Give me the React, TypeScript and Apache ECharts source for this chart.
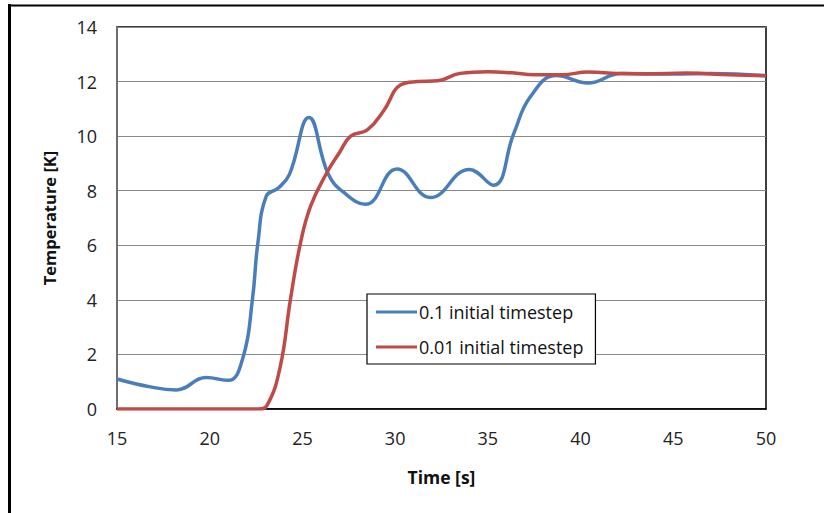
import React, { useEffect, useRef } from "react";
import * as echarts from "echarts";

const blueX = [15, 16.8, 18.2, 19.8, 21.0, 21.8, 22.3, 22.6, 23.05, 23.7, 24.3, 25.35, 26.4, 27.3, 28.4, 30.1, 31.9, 34.0, 35.3, 36.4, 37.3, 38.7, 40.4, 42.2, 45, 47, 50];
const blueY = [1.1, 0.81, 0.7, 1.15, 1.05, 1.9, 4.0, 6.1, 7.8, 8.1, 8.6, 10.68, 8.6, 7.9, 7.5, 8.8, 7.75, 8.78, 8.2, 10.1, 11.45, 12.22, 11.95, 12.3, 12.28, 12.3, 12.22];

const redX = [15, 20, 22.6, 23.1, 23.8, 24.35, 24.9, 25.45, 26.3, 27.0, 27.6, 28.5, 29.4, 30.3, 31.2, 32.3, 33.5, 35, 36.3, 37.5, 39, 40.4, 42, 43.6, 45.7, 48, 50];
const redY = [0, 0, 0, 0.14, 1.54, 4.0, 6.1, 7.45, 8.64, 9.4, 10.0, 10.23, 10.95, 11.88, 12.0, 12.03, 12.3, 12.36, 12.32, 12.25, 12.25, 12.35, 12.3, 12.28, 12.31, 12.25, 12.21];

const seriesNames = ["0.1 initial timestep", "0.01 initial timestep"];
const xTitle = "Time [s]";
const yTitle = "Temperature [K]";

const zip = (xs: number[], ys: number[]) => xs.map((x, i) => [x, ys[i]]);

export default function App() {
  const ref = useRef<HTMLDivElement>(null);
  useEffect(() => {
    if (!ref.current) return;
    const chart = echarts.init(ref.current, null, { renderer: "svg" });
    const font = "'Open Sans', sans-serif";
    chart.setOption({
      animation: false,
      backgroundColor: "#fff",
      textStyle: { fontFamily: font },
      grid: {
        left: 117,
        right: 58,
        top: 27,
        bottom: 104,
        show: true,
        borderColor: "#000",
        borderWidth: 1.5,
        containLabel: false,
      },
      xAxis: {
        type: "value",
        min: 15,
        max: 50,
        interval: 5,
        name: xTitle,
        nameLocation: "middle",
        nameGap: 59,
        nameTextStyle: { fontFamily: font, fontSize: 17.5, fontWeight: "bold", color: "#111" },
        axisLine: { show: true, lineStyle: { color: "#000", width: 1.5 } },
        axisTick: { show: false },
        axisLabel: { fontFamily: font, fontSize: 18, color: "#222", margin: 20 },
        splitLine: { show: false },
      },
      yAxis: {
        type: "value",
        min: 0,
        max: 14,
        interval: 2,
        name: yTitle,
        nameLocation: "middle",
        nameGap: 59,
        nameTextStyle: { fontFamily: font, fontSize: 16.5, fontWeight: "bold", color: "#111" },
        axisLine: { show: true, lineStyle: { color: "#6e6e6e", width: 2 } },
        axisTick: { show: false },
        axisLabel: { fontFamily: font, fontSize: 18, color: "#222", margin: 20 },
        splitLine: { show: true, lineStyle: { color: "#8a8a8a", width: 1 } },
      },
      legend: {
        orient: "vertical",
        left: 367,
        top: 294,
        padding: [8, 12, 7, 9],
        itemGap: 15,
        itemWidth: 41,
        itemHeight: 3,
        icon: "rect",
        borderColor: "#000",
        borderWidth: 1.2,
        backgroundColor: "#fff",
        textStyle: { fontFamily: font, fontSize: 18, color: "#111", lineHeight: 20, padding: [0, 0, 0, -3] },
        data: seriesNames,
      },
      series: [
        {
          name: seriesNames[0],
          type: "line",
          data: zip(blueX, blueY),
          smooth: 0.45,
          symbol: "none",
          lineStyle: { color: "#4a7ebb", width: 3.5 },
          itemStyle: { color: "#4a7ebb" },
          z: 3,
        },
        {
          name: seriesNames[1],
          type: "line",
          data: zip(redX, redY),
          smooth: 0.45,
          symbol: "none",
          lineStyle: { color: "#be4b48", width: 3.5 },
          itemStyle: { color: "#be4b48" },
          z: 4,
        },
      ],
      graphic: [
        { type: "line", shape: { x1: 9.5, y1: 4, x2: 9.5, y2: 513 }, style: { stroke: "#000", lineWidth: 3 } },
        { type: "line", shape: { x1: 8, y1: 5.5, x2: 824, y2: 5.5 }, style: { stroke: "#000", lineWidth: 2 } },
      ],
    });
    return () => chart.dispose();
  }, []);
  return <div ref={ref} style={{ width: 824, height: 513, position: "absolute", left: 0, top: 0 }} />;
}
